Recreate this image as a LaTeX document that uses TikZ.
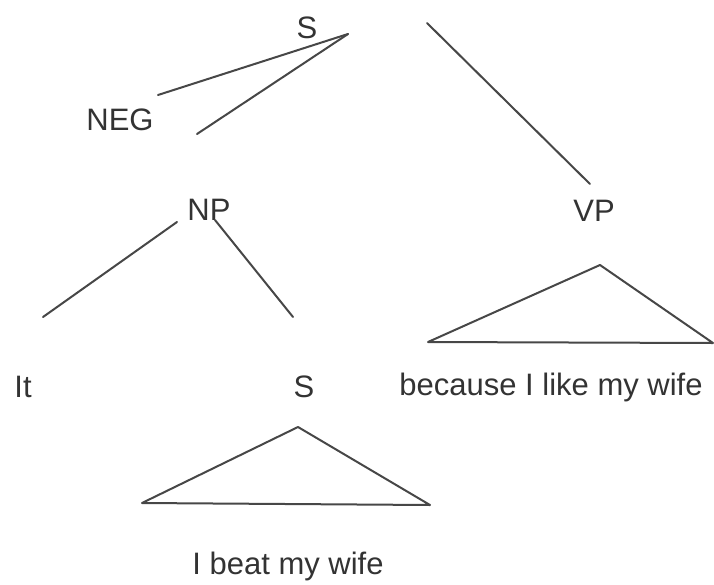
\documentclass[tikz,border=0pt]{standalone}
\usepackage{fontspec}
\setmainfont{Liberation Sans}
\begin{document}
\begin{tikzpicture}[
        x=0.5pt, y=-0.5pt,
        every node/.style={font=\fontsize{15.5}{18}\selectfont, text=black!80, inner sep=0pt, anchor=base},
        branch/.style={draw=black!72, line width=1pt, line cap=round, line join=round}
    ]
        \useasboundingbox (0,0) rectangle (714,585);
        % Labels
        \node (sTop) at (307,38) {S};
        \node (neg) at (120,130) {NEG};
        \node (np) at (209,220) {NP};
        \node (vp) at (594,221) {VP};
        \node (it) at (23,397) {It};
        \node (sLow) at (304,397) {S};
        \node (because) at (551,395) {because I like my wife};
        \node (beat) at (288,574) {I beat my wife};

        % Line ends
        \coordinate (sFork) at (348,34);
        \coordinate (negEnd) at (158,95);
        \coordinate (npEnd) at (197,134);
        \coordinate (vpStart) at (427,23);
        \coordinate (vpEnd) at (590,184);
        \coordinate (npLeft) at (177,222);
        \coordinate (itEnd) at (43,317);
        \coordinate (npRight) at (215,220);
        \coordinate (sEnd) at (293,317);
        \coordinate (vpApex) at (600,265);
        \coordinate (vpBaseL) at (428,342);
        \coordinate (vpBaseR) at (713,343);
        \coordinate (sApex) at (298,427);
        \coordinate (sBaseL) at (142,503);
        \coordinate (sBaseR) at (430,505);

        % Branches
        \draw[branch] (sFork) -- (negEnd);
        \draw[branch] (sFork) -- (npEnd);
        \draw[branch] (vpStart) -- (vpEnd);
        \draw[branch] (npLeft) -- (itEnd);
        \draw[branch] (npRight) -- (sEnd);
        \draw[branch] (vpApex) -- (vpBaseL) -- (vpBaseR) -- cycle;
        \draw[branch] (sApex) -- (sBaseL) -- (sBaseR) -- cycle;
    \end{tikzpicture}
\end{document}
